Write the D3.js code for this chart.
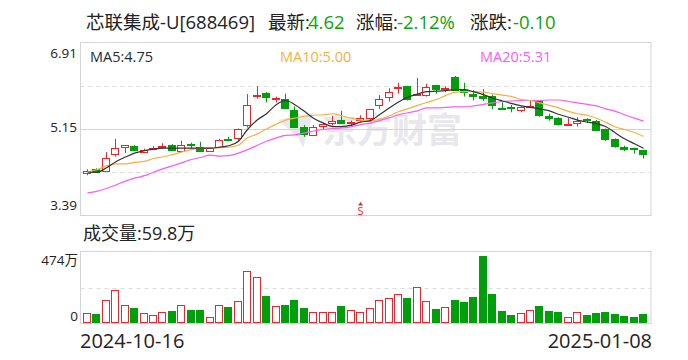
<!DOCTYPE html>
<html>
<head>
<meta charset="utf-8">
<script src="https://cdn.jsdelivr.net/npm/d3@7"></script>
<style>
html, body { margin: 0; padding: 0; background: #fff; }
text { font-family: "Open Sans", "Noto Sans CJK SC", sans-serif; }
</style>
</head>
<body>
<div id="chart"></div>
<script>
const openPrice = [4.25,4.34,4.29,4.63,4.78,4.81,4.68,4.75,4.78,4.82,4.70,4.84,4.78,4.70,4.79,4.95,4.95,5.24,5.83,5.89,5.76,5.76,5.54,5.19,5.02,5.20,5.27,5.34,5.27,5.32,5.37,5.64,5.79,5.97,6.03,5.84,5.84,6.05,5.97,6.21,5.95,5.87,5.83,5.82,5.58,5.60,5.53,5.59,5.71,5.42,5.38,5.25,5.27,5.35,5.32,5.16,4.95,4.79,4.76,4.72];
const closePrice = [4.30,4.28,4.56,4.76,4.82,4.73,4.72,4.77,4.80,4.72,4.82,4.83,4.70,4.76,4.93,4.94,5.14,5.64,5.84,5.81,5.79,5.58,5.20,5.05,5.19,5.25,5.31,5.27,5.29,5.37,5.55,5.77,5.90,6.00,5.77,5.87,6.00,5.97,5.98,5.95,5.91,5.83,5.79,5.63,5.57,5.58,5.59,5.62,5.42,5.38,5.26,5.26,5.31,5.32,5.14,4.95,4.80,4.74,4.74,4.63];
const highPrice = [4.33,4.35,4.68,4.95,4.82,4.82,4.75,4.80,4.86,4.84,4.91,4.87,4.89,4.78,4.95,4.99,5.16,5.86,6.02,5.90,5.81,5.87,5.61,5.23,5.23,5.27,5.42,5.52,5.32,5.43,5.56,5.84,5.98,6.09,6.03,6.19,6.07,6.05,6.02,6.23,6.09,5.94,5.96,5.85,5.69,5.64,5.61,5.73,5.73,5.46,5.39,5.37,5.39,5.37,5.33,5.16,4.96,4.81,4.77,4.73];
const lowPrice = [4.21,4.27,4.28,4.59,4.66,4.72,4.66,4.73,4.75,4.70,4.69,4.76,4.68,4.68,4.78,4.90,4.91,5.18,5.77,5.69,5.69,5.57,5.20,4.99,5.01,5.15,5.22,5.26,5.19,5.30,5.29,5.56,5.71,5.87,5.73,5.83,5.81,5.87,5.90,5.94,5.81,5.73,5.72,5.55,5.56,5.49,5.49,5.58,5.40,5.32,5.22,5.25,5.20,5.27,5.14,4.91,4.77,4.70,4.65,4.55];
// colour, a few flat days can't be told from open and close
const isUp = [1,0,1,1,1,0,1,1,1,0,1,0,0,1,1,0,1,1,1,0,1,0,0,0,1,1,1,0,1,1,1,1,1,1,0,1,1,0,1,0,0,0,0,0,0,0,1,1,0,0,0,1,1,0,0,0,0,0,0,0];
const ma5 = [4.27,4.27,4.36,4.48,4.58,4.66,4.71,4.74,4.76,4.76,4.76,4.76,4.76,4.76,4.78,4.81,4.90,5.14,5.34,5.46,5.65,5.73,5.65,5.51,5.37,5.27,5.20,5.20,5.23,5.29,5.32,5.44,5.58,5.70,5.79,5.86,5.91,5.92,5.93,5.95,5.95,5.91,5.85,5.78,5.72,5.67,5.62,5.59,5.56,5.52,5.45,5.39,5.33,5.29,5.26,5.20,5.07,4.95,4.85,4.76];
const ma10 = [4.28,4.32,4.40,4.44,4.44,4.47,4.49,4.55,4.58,4.63,4.68,4.73,4.76,4.76,4.77,4.78,4.82,4.97,5.05,5.15,5.25,5.33,5.37,5.41,5.43,5.44,5.46,5.42,5.37,5.33,5.31,5.35,5.42,5.50,5.56,5.63,5.69,5.75,5.83,5.90,5.91,5.91,5.90,5.87,5.84,5.81,5.75,5.73,5.68,5.63,5.58,5.51,5.46,5.43,5.37,5.29,5.19,5.14,5.08,5.00];
const ma20 = [3.85,3.88,3.94,4.01,4.09,4.15,4.20,4.27,4.34,4.40,4.46,4.53,4.57,4.62,4.60,4.61,4.66,4.73,4.82,4.90,4.97,5.02,5.03,5.07,5.11,5.14,5.16,5.17,5.20,5.24,5.27,5.32,5.38,5.44,5.48,5.52,5.58,5.58,5.59,5.60,5.60,5.62,5.65,5.68,5.71,5.72,5.73,5.73,5.73,5.74,5.74,5.71,5.68,5.65,5.62,5.56,5.51,5.44,5.37,5.31];
const volume = [66,62,158,218,125,101,66,59,73,81,119,88,88,40,125,106,145,343,304,180,114,121,154,101,79,73,79,114,86,79,99,152,165,191,167,238,145,95,106,154,141,174,444,194,81,59,66,86,114,81,75,46,73,53,68,75,62,48,46,60];
const priceTicks = [6.91, 5.15, 3.39];
const volumeTicks = [474, 0];
const gridPrices = [6.03, 4.27];

const width = 688, height = 360;
const red = "#f5222a", green = "#009e0a", gridColor = "#d4d4d8";
const left = 80.5, right = 651;
const priceTop = 42.5, priceBottom = 215.5;
const volTop = 251.5, volBottom = 323.5;

const svg = d3.select("#chart").append("svg")
	.attr("width", width).attr("height", height)
	.style("display", "block");

const x = d3.scaleBand().domain(d3.range(volume.length)).range([82.3, 647.8]);
const xMid = (i) => Math.round(x(i) + x.bandwidth() / 2) + 0.5;
const y = d3.scaleLinear().domain([3.39, 6.91]).range([priceBottom, priceTop]);
const yVol = d3.scaleLinear().domain([0, 474]).range([volBottom, volTop]);

// header
const header = [
	["芯联集成-U[688469]", 86, "#222"],
	["最新:", 268, "#222"],
	["4.62", 308, "#0aa50a"],
	["涨幅:", 356, "#222"],
	["-2.12%", 397, "#0aa50a"],
	["涨跌:", 470, "#222"],
	["-0.10", 513, "#0aa50a"]
];
svg.append("g").selectAll("text").data(header).join("text")
	.attr("x", (d) => d[1]).attr("y", 29)
	.attr("font-size", 18.5).attr("fill", (d) => d[2])
	.text((d) => d[0]);

// watermark goes under the candles
const wm = svg.append("g").attr("fill", "#e8e8ec");
wm.append("text").attr("x", 322).attr("y", 143)
	.attr("font-size", 35).attr("font-weight", 700)
	.style("font-family", '"Noto Sans CJK SC"')
	.text("东方财富");
wm.append("path").attr("d", "M278 120 L313 113 L303 148 L298 137 Z");

// frames and grid
[[priceTop, priceBottom], [volTop, volBottom]].forEach(([t, b]) => {
	svg.append("rect").attr("x", left).attr("y", t)
		.attr("width", right - left).attr("height", b - t)
		.attr("fill", "none").attr("stroke", gridColor).attr("stroke-width", 1);
});
svg.append("g").selectAll("line").data(gridPrices).join("line")
	.attr("x1", left).attr("x2", right)
	.attr("y1", (d) => Math.round(y(d)) + 0.5).attr("y2", (d) => Math.round(y(d)) + 0.5)
	.attr("stroke", "#dcdcdc").attr("stroke-dasharray", "4,4");
svg.append("line").attr("x1", left).attr("x2", right)
	.attr("y1", Math.round(y(5.15)) + 0.5).attr("y2", Math.round(y(5.15)) + 0.5)
	.attr("stroke", gridColor);
svg.append("line").attr("x1", left).attr("x2", right)
	.attr("y1", Math.round(yVol(237)) + 0.5).attr("y2", Math.round(yVol(237)) + 0.5)
	.attr("stroke", "#dcdcdc").attr("stroke-dasharray", "4,4");

// axis labels
svg.append("g").selectAll("text").data(priceTicks).join("text")
	.attr("x", 77).attr("text-anchor", "end").attr("font-size", 13.5).attr("fill", "#222")
	.attr("y", (d, i) => [58, 132, 210][i])
	.text((d) => d3.format(".2f")(d));
svg.append("g").selectAll("text").data(volumeTicks).join("text")
	.attr("x", 78).attr("text-anchor", "end").attr("font-size", 13.5).attr("fill", "#222")
	.attr("y", (d, i) => [265, 321][i])
	.text((d) => d === 0 ? "0" : d + "万");

// ma labels
svg.append("text").attr("x", 90).attr("y", 62).attr("font-size", 14.5).attr("fill", "#1c2b3a").text("MA5:4.75");
svg.append("text").attr("x", 280).attr("y", 62).attr("font-size", 14.5).attr("fill", "#f5b041").text("MA10:5.00");
svg.append("text").attr("x", 480).attr("y", 62).attr("font-size", 14.5).attr("fill", "#f95cf9").text("MA20:5.31");

// candles
const candles = svg.append("g").selectAll("g").data(volume).join("g")
	.attr("stroke", (d, i) => isUp[i] ? red : green);
candles.append("line")
	.attr("x1", (d, i) => xMid(i)).attr("x2", (d, i) => xMid(i))
	.attr("y1", (d, i) => y(highPrice[i])).attr("y2", (d, i) => y(lowPrice[i]));
candles.append("rect")
	.attr("x", (d, i) => xMid(i) - 4)
	.attr("y", (d, i) => Math.round(y(Math.max(openPrice[i], closePrice[i]))) + 0.5)
	.attr("width", 7)
	.attr("height", (d, i) => Math.max(1, Math.round(Math.abs(y(openPrice[i]) - y(closePrice[i])))))
	.attr("fill", (d, i) => isUp[i] ? "#fff" : green);

// moving averages
const line = d3.line().x((d, i) => xMid(i)).y((d) => y(d)).curve(d3.curveMonotoneX);
[[ma20, "#f95cf9"], [ma10, "#f5b041"], [ma5, "#333"]].forEach(([vals, color]) => {
	svg.append("path").attr("d", line(vals)).attr("fill", "none")
		.attr("stroke", color).attr("stroke-width", 1.2);
});

// sell marker
const sMark = svg.append("g").attr("fill", red);
sMark.append("path").attr("d", "M360.5 202 L363 205.5 L358 205.5 Z");
sMark.append("text").attr("x", 360.5).attr("y", 214.5).attr("text-anchor", "middle")
	.attr("font-size", 11).text("S");

// volume
svg.append("text").attr("x", 83).attr("y", 240).attr("font-size", 18).attr("fill", "#222").text("成交量:59.8万");
svg.append("g").selectAll("rect").data(volume).join("rect")
	.attr("x", (d, i) => xMid(i) - 4)
	.attr("y", (d) => Math.round(yVol(d)) + 0.5)
	.attr("width", 7)
	.attr("height", (d) => volBottom - 1 - Math.round(yVol(d)) - 0.5)
	.attr("fill", (d, i) => isUp[i] ? "#fff" : green)
	.attr("stroke", (d, i) => isUp[i] ? red : green);

// dates
svg.append("text").attr("x", 80).attr("y", 348).attr("font-size", 20).attr("fill", "#222").text("2024-10-16");
svg.append("text").attr("x", 652).attr("y", 348).attr("text-anchor", "end").attr("font-size", 20).attr("fill", "#222").text("2025-01-08");
</script>
</body>
</html>
